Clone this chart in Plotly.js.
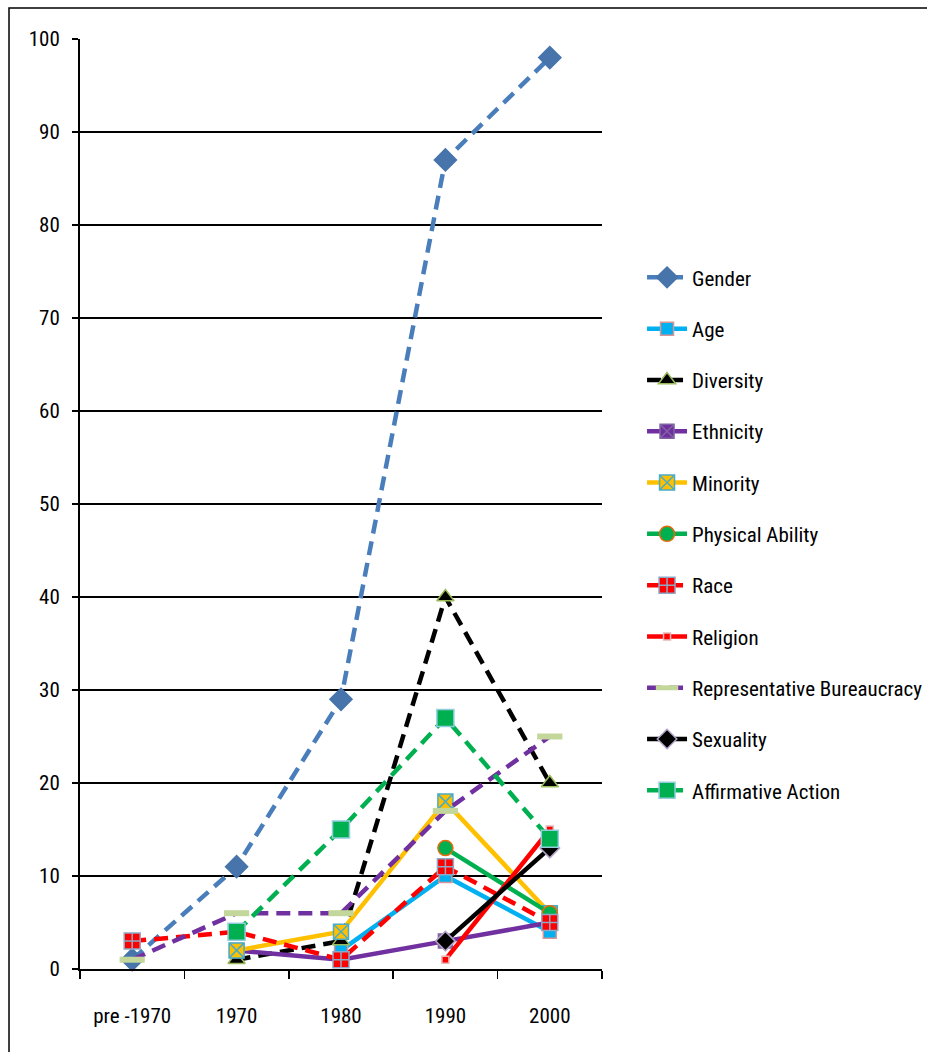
<!DOCTYPE html>
<html>
<head>
<meta charset="utf-8">
<script src="https://cdn.plot.ly/plotly-3.0.1.min.js"></script>
<style>html,body{margin:0;padding:0;background:#fff;}#chart{width:927px;height:1052px;}</style>
</head>
<body>
<div id="chart"></div>
<script>
const categories = ["pre -1970", "1970", "1980", "1990", "2000"];
const seriesNames = ["Gender", "Age", "Diversity", "Ethnicity", "Minority", "Physical Ability", "Race", "Religion", "Representative Bureaucracy", "Sexuality", "Affirmative Action"];
const gender = [1, 11, 29, 87, 98];
const age = [null, null, 2, 10, 4];
const diversity = [null, 1, 3, 40, 20];
const ethnicity = [null, 2, 1, 3, 5];
const minority = [null, 2, 4, 18, 6];
const physicalAbility = [null, null, null, 13, 6];
const race = [3, 4, 1, 11, 5];
const religion = [null, null, null, 1, 15];
const repBureaucracy = [1, 6, 6, 17, 25];
const sexuality = [null, null, null, 3, 13];
const affirmativeAction = [null, 4, 15, 27, 14];
const yTicks = [0, 10, 20, 30, 40, 50, 60, 70, 80, 90, 100];

const values = [gender, age, diversity, ethnicity, minority, physicalAbility, race, religion, repBureaucracy, sexuality, affirmativeAction];
const DASH = "14px,8px";
const styles = [
  {lc:"#4A7EBB", dash:DASH, sym:"diamond", mc:"#4674AB", ml:"#4674AB", ms:17},
  {lc:"#00B0F0", dash:"solid", sym:"square", mc:"#00B0F0", ml:"#D99694", ms:13},
  {lc:"#000000", dash:DASH, sym:"triangle-up", mc:"#000000", ml:"#9BBB59", ms:15},
  {lc:"#7030A0", dash:"solid", sym:"square-x", mc:"#7030A0", ml:"#8064A2", ms:14},
  {lc:"#FFC000", dash:"solid", sym:"square-x", mc:"#FFC000", ml:"#4BACC6", ms:15},
  {lc:"#00B050", dash:"solid", sym:"circle", mc:"#00B050", ml:"#E46C0A", ms:15},
  {lc:"#FF0000", dash:DASH, sym:"square-cross", mc:"#FF0000", ml:"#8EA9C8", ms:16},
  {lc:"#FF0000", dash:"solid", sym:"square", mc:"#FF0000", ml:"#E6B9B8", ms:7},
  {lc:"#7030A0", dash:DASH, sym:"line-ew", mc:"#C4D79B", ml:"#C4D79B", ms:18, mlw:6},
  {lc:"#000000", dash:"solid", sym:"diamond", mc:"#000000", ml:"#B3A2C7", ms:15},
  {lc:"#00B050", dash:DASH, sym:"square", mc:"#00B050", ml:"#93CDDD", ms:17}
];

const traces = seriesNames.map((name, i) => {
  const s = styles[i];
  return {
    type: "scatter", mode: "lines+markers", name: name,
    x: categories, y: values[i], connectgaps: false,
    legendgroup: "g" + i,
    line: {color: s.lc, width: 4.5, dash: s.dash},
    marker: {symbol: s.sym, size: s.ms, color: s.mc, line: {color: s.ml, width: s.mlw || 1.5}},
    cliponaxis: false
  };
});

const FONT = "'Liberation Sans Narrow', 'Arial Narrow', 'Roboto Condensed', 'Open Sans', sans-serif";

const layout = {
  width: 927, height: 1052,
  margin: {l: 80, r: 325, t: 39, b: 83, pad: 0, autoexpand: false},
  paper_bgcolor: "#ffffff", plot_bgcolor: "#ffffff",
  font: {family: FONT, color: "#000000", size: 21},
  showlegend: true,
  legend: {
    xref: "container", yref: "container",
    x: 0.6926, xanchor: "left", y: 0.7555, yanchor: "top",
    maxheight: 760,
    font: {family: FONT, size: 21, color: "#000000"},
    tracegroupgap: 21, itemwidth: 40, bgcolor: "rgba(0,0,0,0)", borderwidth: 0
  },
  xaxis: {
    type: "category", categoryorder: "array", categoryarray: categories,
    range: [-0.5, 4.5],
    showline: true, linecolor: "#000000", linewidth: 2,
    ticks: "outside", tickson: "boundaries", ticklen: 8, tickwidth: 1.5, tickcolor: "#000000",
    showgrid: false, zeroline: false, automargin: false,
    tickfont: {family: FONT, size: 21, color: "#000000"},
    ticklabelstandoff: 27
  },
  yaxis: {
    range: [0, 100], tickvals: yTicks, ticktext: yTicks.map(String),
    showline: true, linecolor: "#000000", linewidth: 2,
    ticks: "outside", ticklen: 6, tickwidth: 1.5, tickcolor: "#000000",
    showgrid: true, gridcolor: "#000000", gridwidth: 1.5, zeroline: false, automargin: false,
    tickfont: {family: FONT, size: 21, color: "#000000"},
    ticklabelstandoff: 8
  },
  shapes: [
    {type: "rect", xref: "paper", yref: "paper", x0: -0.136, x1: 2, y0: -0.3, y1: 1.0333,
     line: {color: "#000000", width: 1.5}, fillcolor: "rgba(0,0,0,0)", layer: "below"}
  ]
};

Plotly.newPlot("chart", traces, layout, {displayModeBar: false, staticPlot: true});
</script>
</body>
</html>
